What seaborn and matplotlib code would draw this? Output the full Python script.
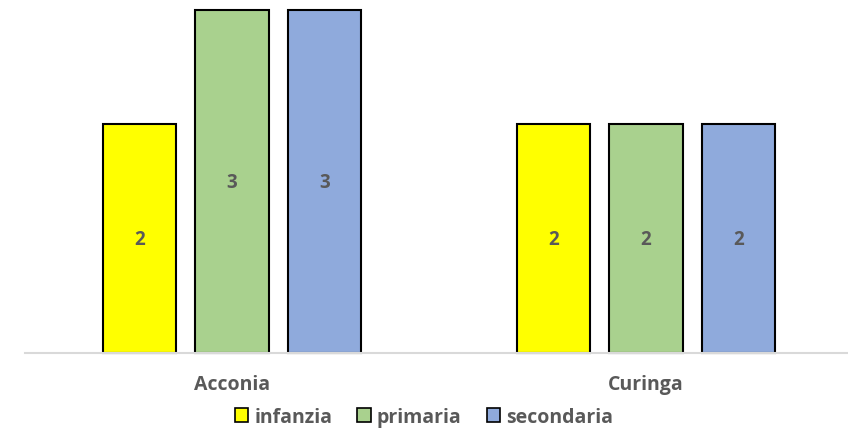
import numpy as np
import pandas as pd
import matplotlib
matplotlib.use('Agg')
import matplotlib.pyplot as plt
import seaborn as sns

places = ['Acconia', 'Curinga']
infanzia = [2, 2]
primaria = [3, 2]
secondaria = [3, 2]
series = ['infanzia', 'primaria', 'secondaria']
colors = ['#FFFF00', '#A9D18E', '#8FAADC']

df = pd.DataFrame({
    'place': places * 3,
    'serie': [s for s in series for _ in places],
    'value': infanzia + primaria + secondaria,
})

sns.set_style('white')
plt.rcParams['font.family'] = ['Open Sans', 'DejaVu Sans']
gray = '#595959'

fig = plt.figure(figsize=(8.48, 4.31), dpi=100)
ax = fig.add_axes([25 / 848, 77 / 431, 828 / 848, 343 / 431])

sns.barplot(data=df, x='place', y='value', hue='serie', palette=colors,
            saturation=1, width=0.67, gap=0.21, edgecolor='black', linewidth=1.5,
            legend=False, ax=ax)

for p in ax.patches:
    p.set_clip_on(False)
for c in ax.containers:
    ax.bar_label(c, label_type='center', fontsize=13.5, fontweight='bold', color=gray)

ax.set_ylim(0, 3)
ax.set_xlim(-0.5, 1.5)
ax.set_xlabel('')
ax.set_ylabel('')
ax.set_yticks([])
ax.tick_params(axis='x', length=0, labelsize=14, labelcolor=gray, pad=15)
for t in ax.get_xticklabels():
    t.set_fontweight('bold')
for s in ['top', 'right', 'left']:
    ax.spines[s].set_visible(False)
ax.spines['bottom'].set_color('#D9D9D9')
ax.spines['bottom'].set_linewidth(1.5)

handles = [plt.Rectangle((0, 0), 1, 1, facecolor=c, edgecolor='black', linewidth=1.2) for c in colors]
leg = fig.legend(handles, series, loc='center', bbox_to_anchor=(0.5, 13 / 431), ncol=3,
                 frameon=False, handlelength=0.7, handleheight=0.7, handletextpad=0.3,
                 columnspacing=1.3, prop={'size': 14, 'weight': 'bold'})
for t in leg.get_texts():
    t.set_color(gray)

fig.savefig('out.png', dpi=100)
